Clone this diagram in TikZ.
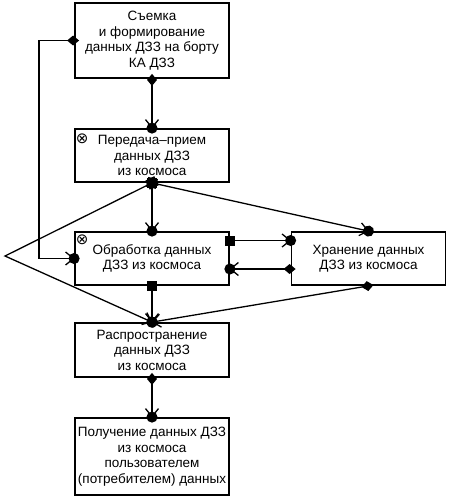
\documentclass[tikz,border=0pt]{standalone}
\usepackage{fontspec}
\setmainfont{Liberation Sans}
\newfontfamily\symfont{DejaVu Sans}
\usetikzlibrary{arrows.meta,positioning}
\tikzset{
    every node/.style={font=\fontsize{13.5}{15.5}\selectfont},
    stage/.style={rectangle,draw,line width=1.8pt,minimum width=154pt,align=center,inner sep=2pt},
    cross/.style={inner sep=0pt,font=\symfont\fontsize{15}{15}\selectfont},
    link/.style={line width=1.3pt,shorten <=-5pt,shorten >=-5.5pt},
    dmball/.style={link,{Diamond[length=12pt,width=10pt]}-{Straight Barb[length=8pt,width=13pt,sep=-6pt]Circle[length=11pt,width=11pt]}},
    sqball/.style={link,{Square[length=10pt,width=10pt]}-{Straight Barb[length=8pt,width=13pt,sep=-6pt]Circle[length=11pt,width=11pt]}}
}
\begin{document}
\begin{tikzpicture}[x=1pt,y=-1pt]
\useasboundingbox (0,0) rectangle (448,498);
\node[stage,minimum height=75pt] (shoot) at (152,40.5) {Съемка\\и формирование\\данных ДЗЗ на борту\\КА ДЗЗ};
\node[stage,minimum height=53pt] (trans) at (152,155.5) {Передача–прием\\данных ДЗЗ\\из космоса};
\node[stage,minimum height=53pt] (proc) at (152,258.5) {Обработка данных\\ДЗЗ из космоса};
\node[stage,minimum height=53pt] (store) at (368.5,258.5) {Хранение данных\\ДЗЗ из космоса};
\node[stage,minimum height=54pt] (distr) at (152,350) {Распространение\\данных ДЗЗ\\из космоса};
\node[stage,minimum height=77pt] (user) at (152,456.5) {Получение данных ДЗЗ\\из космоса\\пользователем\\(потребителем) данных};
\node[cross] (trans-x) at ([xshift=8pt,yshift=-11pt]trans.north west) {⊗};
\node[cross] (proc-x) at ([xshift=8pt,yshift=-9pt]proc.north west) {⊗};
\coordinate (apex) at (5,256);

\draw[dmball] (shoot.south) -- (trans.north);
\draw[dmball] (shoot.west) -- ++(-35,0) |- (proc.west);
\draw[sqball] (trans.south) -- (proc.north);
\draw[sqball] (trans.south) -- (store.north);
\draw[sqball] (trans.south) -- (apex) -- (distr.north);
\draw[sqball] ([yshift=18pt]proc.east) -- ([yshift=18pt]store.west);
\draw[dmball] ([yshift=-10.5pt]store.west) -- ([yshift=-10.5pt]proc.east);
\draw[sqball] (proc.south) -- (distr.north);
\draw[dmball] (store.south) -- (distr.north);
\draw[dmball] (distr.south) -- (user.north);
\end{tikzpicture}
\end{document}
